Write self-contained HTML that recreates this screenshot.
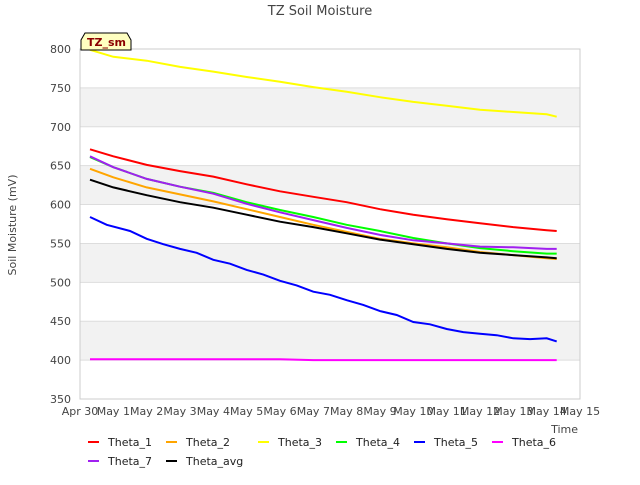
<!DOCTYPE html>
<html><head><meta charset="utf-8"><style>
body{margin:0;background:#fff;font-family:"Liberation Sans","DejaVu Sans",sans-serif}
svg text{font-family:"DejaVu Sans","Liberation Sans",sans-serif}
</style></head><body>
<svg id="chart" width="640" height="480">
<rect width="640" height="480" fill="#fff"/>
<text x="320" y="15" text-anchor="middle" font-size="13" fill="#444">TZ Soil Moisture</text>
<g id="grid"></g>
<g id="axes"></g>
<g id="series"></g>
<text x="16" y="225" transform="rotate(-90 16 225)" text-anchor="middle" font-size="11" fill="#444">Soil Moisture (mV)</text>
<text x="578" y="433" text-anchor="end" font-size="11" fill="#444">Time</text>
<g>
<path d="M81,40 L85,33 L127,33 L131,40 L131,50 L81,50 Z" fill="#ffffc0" stroke="#000" stroke-width="1"/>
<text x="87" y="46" font-size="11" font-weight="bold" fill="#8b0000">TZ_sm</text>
</g>
<g id="legend"></g>
</svg>
<script>
const days=[0.3,1,2,3,4,5,6,7,8,9,10,11,12,13,14,14.3];
const theta1=[671,662,651,643,636,626,617,610,603,594,587,581,576,571,567,566];
const theta2=[646,635,622,613,604,594,584,574,565,556,550,545,539,535,531,530];
const theta3=[799,790,785,777,771,764,758,751,745,738,732,727,722,719,716,713];
const theta4=[661,648,633,623,615,603,593,584,574,566,557,550,544,540,537,537];
const theta6=[401,401,401,401,401,401,401,400,400,400,400,400,400,400,400,400];
const theta7=[662,648,633,623,614,601,590,580,570,561,554,550,546,545,543,543];
const thetaAvg=[632,622,612,603,596,587,578,571,563,555,549,543,538,535,532,531];
const days5=[0.3,0.8,1.5,2,2.5,3,3.5,4,4.5,5,5.5,6,6.5,7,7.5,8,8.5,9,9.5,10,10.5,11,11.5,12,12.5,13,13.5,14,14.3];
const theta5=[584,574,566,556,549,543,538,529,524,516,510,502,496,488,484,477,471,463,458,449,446,440,436,434,432,428,427,428,424];
const yTicks=[350,400,450,500,550,600,650,700,750,800];
const xTicks=["Apr 30","May 1","May 2","May 3","May 4","May 5","May 6","May 7","May 8","May 9","May 10","May 11","May 12","May 13","May 14","May 15"];
const X0=80,X1=580,Y0=399,Y1=49;
const xs=d=>X0+d*(X1-X0)/15;
const ys=v=>Y0-(v-350)*(Y0-Y1)/450;
const NS="http://www.w3.org/2000/svg";
function mk(t,a,p){const e=document.createElementNS(NS,t);for(const k in a)e.setAttribute(k,a[k]);p.appendChild(e);return e;}
const grid=document.getElementById('grid'),axes=document.getElementById('axes'),ser=document.getElementById('series'),leg=document.getElementById('legend');
for(let v=400;v<=750;v+=100){const r=mk('rect',{x:X0,y:ys(v+50),width:X1-X0,height:ys(v)-ys(v+50),fill:'#f2f2f2'},grid);

}
yTicks.forEach(v=>{const l=mk('line',{x1:X0,x2:X1,y1:ys(v),y2:ys(v),stroke:'#ddd'},grid);


const t=mk('text',{x:X0-9,y:ys(v)+4,'text-anchor':'end','font-size':11,fill:'#444'},axes);t.textContent=v;

});
xTicks.forEach((s,i)=>{const t=mk('text',{x:xs(i),y:415,'text-anchor':'middle','font-size':11,fill:'#444'},axes);t.textContent=s;

});
const fr=mk('rect',{x:X0,y:Y1,width:X1-X0,height:Y0-Y1,fill:'none',stroke:'#ccc'},axes);


const series=[["Theta_1",days,theta1,"#ff0000"],["Theta_2",days,theta2,"#ffa500"],["Theta_3",days,theta3,"#ffff00"],["Theta_4",days,theta4,"#00ff00"],["Theta_5",days5,theta5,"#0000ff"],["Theta_6",days,theta6,"#ff00ff"],["Theta_7",days,theta7,"#a020f0"],["Theta_avg",days,thetaAvg,"#000000"]];
const order=[2,0,3,6,1,7,4,5];
order.forEach(i=>{const [n,d,v,c]=series[i];
const p=mk('polyline',{points:d.map((x,j)=>xs(x).toFixed(1)+','+ys(v[j]).toFixed(1)).join(' '),fill:'none',stroke:c,'stroke-width':2},ser);

});
const lpos=[[88,442],[166,442],[258,442],[336,442],[414,442],[492,442],[88,461],[166,461]];
series.forEach((s,i)=>{const [x,y]=lpos[i];
const g=mk('g',{},leg);


mk('line',{x1:x,x2:x+11,y1:y,y2:y,stroke:s[3],'stroke-width':2},g);
const t=mk('text',{x:x+20,y:y+4,'font-size':11,fill:'#222'},g);t.textContent=s[0];});
</script>
</body></html>
